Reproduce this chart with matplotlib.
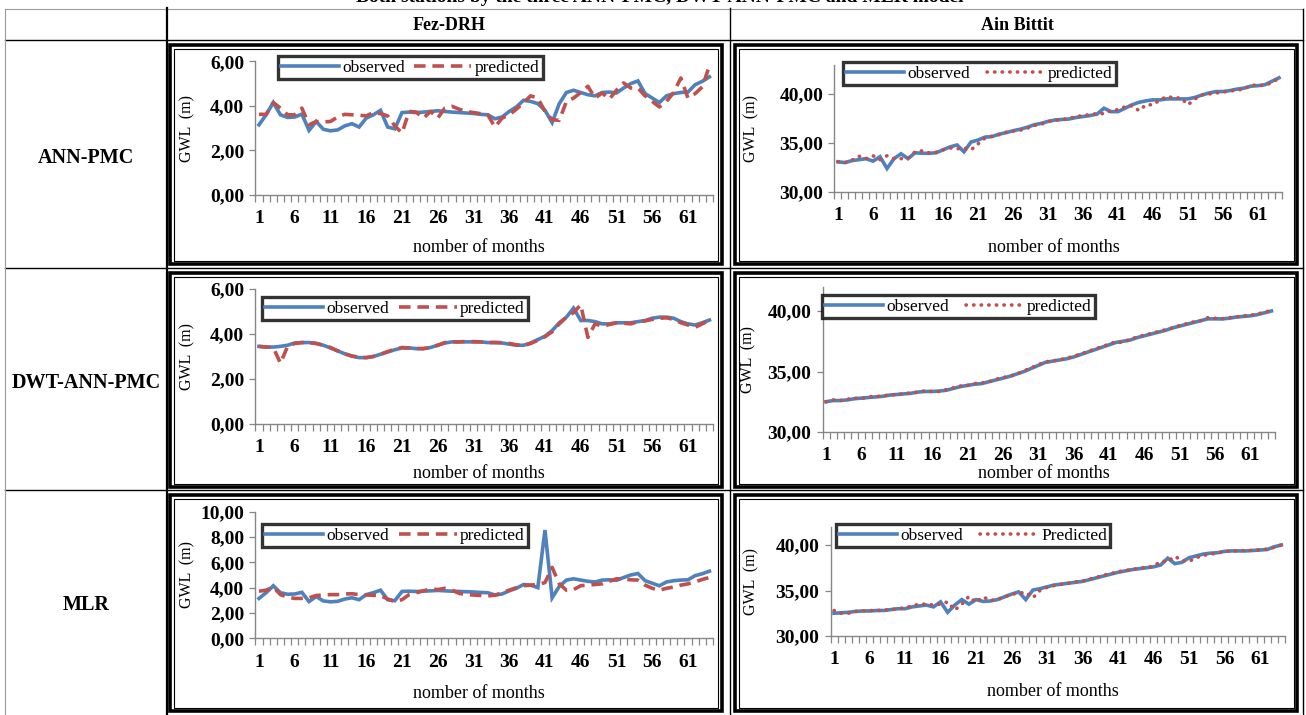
import numpy as np
import matplotlib
matplotlib.use("Agg")
import matplotlib.pyplot as plt
from matplotlib.lines import Line2D
from matplotlib.patches import Rectangle
from matplotlib.ticker import FuncFormatter

plt.rcParams["font.family"] = ["Liberation Serif", "DejaVu Serif"]

W, H = 1306, 715

months = np.arange(1, 65)
month_labels = [1, 6, 11, 16, 21, 26, 31, 36, 41, 46, 51, 56, 61]

row_names = ["ANN-PMC", "DWT-ANN-PMC", "MLR"]
station_names = ["Fez-DRH", "Ain Bittit"]

# Fez-DRH, ANN-PMC
fez_ann_obs = [3.15, 3.60, 4.15, 3.60, 3.48, 3.50, 3.63, 2.90, 3.30, 2.95,
               2.88, 2.92, 3.10, 3.20, 3.05, 3.45, 3.60, 3.80, 3.05, 2.97,
               3.70, 3.72, 3.70, 3.72, 3.75, 3.78, 3.75, 3.72, 3.70, 3.68,
               3.66, 3.62, 3.60, 3.42, 3.50, 3.75, 3.95, 4.25, 4.20, 4.10,
               3.80, 3.25, 4.10, 4.60, 4.70, 4.60, 4.50, 4.45, 4.60, 4.62,
               4.58, 4.80, 5.00, 5.12, 4.55, 4.35, 4.15, 4.45, 4.55, 4.60,
               4.62, 4.95, 5.10, 5.30]
fez_ann_pred = [3.62, 3.62, 4.15, 3.90, 3.60, 3.60, 3.90, 3.15, 3.30, 3.28,
                3.30, 3.50, 3.62, 3.60, 3.58, 3.55, 3.70, 3.65, 3.55, 3.10,
                2.78, 3.75, 3.72, 3.45, 3.75, 3.45, 3.90, 3.98, 3.85, 3.75,
                3.70, 3.65, 3.60, 3.05, 3.45, 3.60, 3.85, 4.15, 4.45, 4.35,
                3.75, 3.38, 3.35, 4.20, 4.35, 4.60, 4.88, 4.35, 4.58, 4.30,
                4.70, 5.03, 4.80, 4.80, 4.45, 4.20, 3.95, 4.20, 4.60, 5.25,
                4.35, 4.55, 4.85, 5.80]

# Fez-DRH, DWT-ANN-PMC
fez_dwt_obs = [3.45, 3.42, 3.42, 3.45, 3.50, 3.60, 3.62, 3.62, 3.58, 3.50,
               3.38, 3.25, 3.12, 3.02, 2.95, 2.95, 3.00, 3.10, 3.20, 3.30,
               3.38, 3.38, 3.35, 3.35, 3.40, 3.50, 3.60, 3.65, 3.65, 3.65,
               3.65, 3.65, 3.62, 3.62, 3.60, 3.55, 3.50, 3.50, 3.60, 3.75,
               3.90, 4.15, 4.50, 4.75, 5.15, 4.60, 4.60, 4.55, 4.45, 4.45,
               4.50, 4.50, 4.50, 4.55, 4.60, 4.70, 4.75, 4.75, 4.70, 4.55,
               4.45, 4.40, 4.50, 4.62]
fez_dwt_pred = [3.45, 3.42, 3.40, 2.70, 3.45, 3.58, 3.62, 3.62, 3.58, 3.50,
                3.40, 3.25, 3.12, 3.02, 2.97, 2.95, 3.00, 3.10, 3.22, 3.32,
                3.40, 3.38, 3.35, 3.35, 3.40, 3.50, 3.62, 3.65, 3.65, 3.67,
                3.66, 3.65, 3.62, 3.62, 3.62, 3.58, 3.52, 3.48, 3.58, 3.72,
                3.88, 4.10, 4.45, 4.75, 4.95, 5.30, 3.85, 4.45, 4.35, 4.42,
                4.50, 4.48, 4.45, 4.55, 4.58, 4.65, 4.70, 4.72, 4.65, 4.50,
                4.40, 4.30, 4.45, 4.62]

# Fez-DRH, MLR
fez_mlr_obs = [3.15, 3.60, 4.15, 3.60, 3.48, 3.50, 3.63, 2.90, 3.30, 2.95,
               2.88, 2.92, 3.10, 3.20, 3.05, 3.45, 3.60, 3.80, 3.05, 2.97,
               3.70, 3.72, 3.70, 3.72, 3.75, 3.78, 3.75, 3.72, 3.70, 3.68,
               3.66, 3.62, 3.60, 3.42, 3.50, 3.75, 3.95, 4.25, 4.20, 4.00,
               8.55, 3.20, 4.10, 4.60, 4.70, 4.60, 4.50, 4.45, 4.60, 4.62,
               4.58, 4.80, 5.00, 5.12, 4.55, 4.35, 4.15, 4.45, 4.55, 4.60,
               4.62, 4.95, 5.10, 5.30]
fez_mlr_pred = [3.72, 3.80, 4.05, 3.45, 3.25, 3.15, 3.15, 3.20, 3.38, 3.42,
                3.45, 3.45, 3.50, 3.52, 3.45, 3.42, 3.40, 3.38, 3.10, 2.90,
                3.05, 3.45, 3.60, 3.75, 3.90, 3.85, 3.95, 3.80, 3.55, 3.45,
                3.42, 3.38, 3.35, 3.40, 3.60, 3.80, 4.00, 4.15, 4.20, 4.25,
                4.40, 5.60, 4.30, 3.80, 3.85, 4.15, 4.20, 4.25, 4.30, 4.50,
                4.70, 4.68, 4.62, 4.60, 4.20, 3.95, 3.80, 3.95, 4.05, 4.20,
                4.30, 4.45, 4.65, 4.80]

# Ain Bittit, ANN-PMC
ain_ann_obs = [33.08, 33.00, 33.20, 33.30, 33.40, 33.15, 33.60, 32.40, 33.40, 33.90,
               33.40, 34.00, 33.95, 33.95, 34.00, 34.30, 34.60, 34.80, 34.10, 35.10,
               35.30, 35.60, 35.65, 35.90, 36.05, 36.25, 36.40, 36.60, 36.85, 37.00,
               37.20, 37.35, 37.40, 37.45, 37.60, 37.70, 37.80, 37.95, 38.55, 38.20,
               38.20, 38.55, 38.90, 39.15, 39.30, 39.40, 39.40, 39.50, 39.50, 39.50,
               39.50, 39.65, 39.90, 40.10, 40.25, 40.25, 40.35, 40.50, 40.60, 40.80,
               40.85, 40.95, 41.30, 41.65]
ain_ann_pred = [33.10, 33.00, 33.25, 33.65, 33.40, 33.70, 33.30, 33.70, 33.40, 33.40,
                33.45, 34.10, 34.20, 34.00, 34.05, 34.30, 34.50, 34.40, 34.50, 34.30,
                34.90, 35.50, 35.70, 35.85, 36.10, 36.20, 36.30, 36.50, 36.80, 36.90,
                37.20, 37.30, 37.40, 37.50, 37.70, 37.80, 37.90, 38.00, 38.00, 38.30,
                38.40, 38.70, 38.80, 38.30, 38.90, 38.90, 39.40, 39.75, 39.60, 39.60,
                38.90, 39.50, 39.90, 40.00, 40.10, 40.20, 40.30, 40.40, 40.50, 40.90,
                40.90, 40.85, 41.20, 41.60]

# Ain Bittit, DWT-ANN-PMC
ain_dwt_obs = [32.50, 32.60, 32.60, 32.65, 32.75, 32.80, 32.85, 32.90, 32.95, 33.05,
               33.10, 33.15, 33.20, 33.30, 33.35, 33.35, 33.38, 33.45, 33.60, 33.75,
               33.85, 33.95, 34.00, 34.15, 34.30, 34.45, 34.60, 34.80, 35.00, 35.25,
               35.50, 35.75, 35.85, 35.95, 36.05, 36.20, 36.40, 36.60, 36.80, 37.00,
               37.20, 37.40, 37.50, 37.60, 37.80, 37.95, 38.10, 38.25, 38.40, 38.60,
               38.75, 38.90, 39.05, 39.20, 39.35, 39.35, 39.35, 39.40, 39.50, 39.55,
               39.60, 39.70, 39.85, 40.00]
ain_dwt_pred = [32.50, 32.65, 32.60, 32.70, 32.80, 32.75, 32.90, 32.95, 32.95, 33.10,
                33.05, 33.20, 33.20, 33.30, 33.40, 33.35, 33.35, 33.50, 33.65, 33.80,
                33.85, 34.00, 34.05, 34.15, 34.35, 34.50, 34.60, 34.80, 35.05, 35.30,
                35.55, 35.80, 35.88, 35.95, 36.10, 36.25, 36.45, 36.65, 36.85, 37.05,
                37.25, 37.45, 37.40, 37.65, 37.85, 38.00, 38.15, 38.30, 38.45, 38.60,
                38.80, 38.95, 39.10, 39.20, 39.45, 39.40, 39.35, 39.45, 39.50, 39.60,
                39.65, 39.75, 39.90, 40.05]

# Ain Bittit, MLR
ain_mlr_obs = [32.50, 32.55, 32.60, 32.70, 32.75, 32.75, 32.80, 32.80, 32.90, 33.00,
               33.00, 33.20, 33.30, 33.40, 33.20, 33.75, 32.60, 33.40, 34.00, 33.50,
               34.00, 33.80, 33.85, 34.00, 34.30, 34.60, 34.85, 34.00, 35.05, 35.20,
               35.40, 35.60, 35.70, 35.80, 35.90, 36.00, 36.20, 36.40, 36.60, 36.80,
               37.00, 37.15, 37.30, 37.40, 37.50, 37.60, 37.80, 38.55, 37.95, 38.10,
               38.60, 38.80, 39.00, 39.10, 39.15, 39.30, 39.35, 39.35, 39.35, 39.40,
               39.45, 39.50, 39.80, 40.00]
ain_mlr_pred = [32.80, 32.50, 32.50, 32.70, 32.75, 32.80, 32.80, 32.85, 32.90, 33.00,
                33.10, 33.30, 33.50, 33.50, 33.40, 33.50, 33.75, 32.85, 33.50, 34.35,
                33.70, 34.30, 33.90, 34.00, 34.30, 34.60, 34.70, 34.80, 34.20, 35.00,
                35.35, 35.55, 35.68, 35.80, 35.95, 36.05, 36.25, 36.45, 36.70, 36.85,
                37.05, 37.20, 37.30, 37.45, 37.55, 37.65, 38.20, 38.20, 38.75, 38.30,
                38.20, 38.60, 38.85, 39.00, 39.10, 39.30, 39.35, 39.35, 39.40, 39.40,
                39.50, 39.55, 39.75, 40.00]

BLUE = "#4F81BD"
RED = "#C0504D"
AXIS_GREY = "#868686"


def fig_rect(x0, y0, x1, y1):
    return [x0 / W, 1 - y1 / H, (x1 - x0) / W, (y1 - y0) / H]


def fx(x):
    return x / W


def fy(y):
    return 1 - y / H


panels = [
    dict(obs=fez_ann_obs, pred=fez_ann_pred, pred_name="predicted", style="dash",
         ax=(255.4, 713.0, 61.3, 195.0), ylim=(0, 6), yticks=[0, 2, 4, 6],
         frame=(170, 45, 722, 264), legend=(278, 56), colsp=0.5, ylab_x=187, xlab_y=247),
    dict(obs=ain_ann_obs, pred=ain_ann_pred, pred_name="predicted", style="dot",
         ax=(834.5, 1282.5, 64.6, 192.0), ylim=(30, 43), yticks=[30, 35, 40],
         frame=(735, 45, 1297, 264), legend=(843, 62), colsp=1.0, ylab_x=751, xlab_y=247),
    dict(obs=fez_dwt_obs, pred=fez_dwt_pred, pred_name="predicted", style="dash",
         ax=(255.4, 713.0, 289.0, 424.0), ylim=(0, 6), yticks=[0, 2, 4, 6],
         frame=(170, 273, 722, 487), legend=(262, 297), colsp=0.6, ylab_x=187, xlab_y=473),
    dict(obs=ain_dwt_obs, pred=ain_dwt_pred, pred_name="predicted", style="dot",
         ax=(822.5, 1275.0, 286.8, 432.0), ylim=(30, 42), yticks=[30, 35, 40],
         frame=(735, 273, 1297, 487), legend=(822, 295), colsp=1.0, ylab_x=748, xlab_y=473),
    dict(obs=fez_mlr_obs, pred=fez_mlr_pred, pred_name="predicted", style="dash",
         ax=(255.4, 713.0, 511.7, 638.3), ylim=(0, 10), yticks=[0, 2, 4, 6, 8, 10],
         frame=(170, 495, 722, 711), legend=(262, 524), colsp=0.6, ylab_x=187, xlab_y=693),
    dict(obs=ain_mlr_obs, pred=ain_mlr_pred, pred_name="Predicted", style="dot",
         ax=(830.5, 1284.9, 526.8, 636.0), ylim=(30, 42), yticks=[30, 35, 40],
         frame=(735, 495, 1297, 711), legend=(836, 524), colsp=1.0, ylab_x=751, xlab_y=692),
]

fig = plt.figure(figsize=(W / 100, H / 100), dpi=100)
fig.patch.set_facecolor("white")

# table grid
tline = dict(color="black", lw=1.0, transform=fig.transFigure)
for y in (40, 268, 490):
    fig.add_artist(Line2D([fx(5), fx(1303)], [fy(y), fy(y)], **tline))
fig.add_artist(Line2D([fx(5), fx(1303)], [fy(9), fy(9)], color="#9a9a9a", lw=0.8,
                      transform=fig.transFigure))
fig.add_artist(Line2D([fx(167), fx(167)], [fy(8), fy(715)], color="black", lw=1.6,
                      transform=fig.transFigure))
fig.add_artist(Line2D([fx(730), fx(730)], [fy(8), fy(715)], **tline))
fig.add_artist(Line2D([fx(5), fx(5)], [fy(9), fy(715)], color="#9a9a9a", lw=0.8,
                      transform=fig.transFigure))
fig.add_artist(Line2D([fx(1303), fx(1303)], [fy(9), fy(715)], **tline))

# caption line running off the top edge
fig.text(fx(660), fy(-2), "Both stations by the three ANN-PMC, DWT-ANN-PMC and MLR model",
         ha="center", va="center", fontsize=14, fontweight="bold")

# column and row headers
for name, xc in zip(station_names, (449, 1017)):
    fig.text(fx(xc), fy(25), name, ha="center", va="center", fontsize=13, fontweight="bold")
for name, yc in zip(row_names, (158, 383, 605)):
    fig.text(fx(86), fy(yc), name, ha="center", va="center", fontsize=14.5, fontweight="bold")

fmt = FuncFormatter(lambda v, p: f"{v:.2f}".replace(".", ","))

for p in panels:
    # chart frame: heavy outer border with a thin inner rule
    fx0, fy0, fx1, fy1 = p["frame"]
    fig.add_artist(Rectangle((fx(fx0), fy(fy1)), (fx1 - fx0) / W, (fy1 - fy0) / H,
                             fill=False, ec="black", lw=2.6, transform=fig.transFigure))
    fig.add_artist(Rectangle((fx(fx0 + 3.5), fy(fy1 - 3.5)), (fx1 - fx0 - 7) / W,
                             (fy1 - fy0 - 7) / H, fill=False, ec="black", lw=0.8,
                             transform=fig.transFigure))

    ax0, ax1, ay0, ay1 = p["ax"]
    ax = fig.add_axes(fig_rect(ax0, ay0, ax1, ay1))
    ax.set_facecolor("none")
    ax.plot(months, p["obs"], color=BLUE, lw=2.6, solid_joinstyle="miter", label="observed")
    if p["style"] == "dash":
        ax.plot(months, p["pred"], color=RED, lw=2.6, linestyle=(0, (3.2, 1.9)),
                label=p["pred_name"])
    else:
        ax.plot(months, p["pred"], color=RED, lw=2.6, linestyle=(0, (0.1, 2.0)),
                dash_capstyle="round", label=p["pred_name"])

    ax.set_xlim(0.5, 64.5)
    ax.set_ylim(*p["ylim"])
    for s in ("top", "right"):
        ax.spines[s].set_visible(False)
    for s in ("left", "bottom"):
        ax.spines[s].set_color(AXIS_GREY)
        ax.spines[s].set_linewidth(1.0)
    ax.set_yticks(p["yticks"])
    ax.yaxis.set_major_formatter(fmt)
    ax.set_xticks(month_labels)
    ax.set_xticklabels([str(m) for m in month_labels])
    ax.set_xticks(np.arange(0.5, 65.0, 1.0), minor=True)
    ax.tick_params(axis="x", which="major", length=0, pad=11, labelsize=14)
    ax.tick_params(axis="x", which="minor", length=5, width=0.9, color=AXIS_GREY, direction="out")
    ax.tick_params(axis="y", which="major", length=4, width=0.9, color=AXIS_GREY,
                   direction="out", pad=4, labelsize=14)
    for lab in ax.get_xticklabels() + ax.get_yticklabels():
        lab.set_fontweight("bold")

    # axis titles
    fig.text(fx(p["ylab_x"]), fy((ay0 + ay1) / 2), "GWL  (m)", rotation=90,
             ha="center", va="center", fontsize=11.5)
    fig.text(fx((ax0 + ax1) / 2 - 5), fy(p["xlab_y"]), "nomber of months",
             ha="center", va="center", fontsize=13)

    # legend box
    lx0, ly0 = p["legend"]
    leg = ax.legend(loc="upper left", bbox_to_anchor=(fx(lx0), fy(ly0)),
                    bbox_transform=fig.transFigure, ncol=2, frameon=True, fancybox=False,
                    borderaxespad=0, borderpad=0.2, handlelength=3.3, handletextpad=0.2,
                    columnspacing=p["colsp"], fontsize=12.5)
    frame = leg.get_frame()
    frame.set_edgecolor("black")
    frame.set_linewidth(2.4)

fig.savefig("out.png", dpi=100, facecolor="white")
